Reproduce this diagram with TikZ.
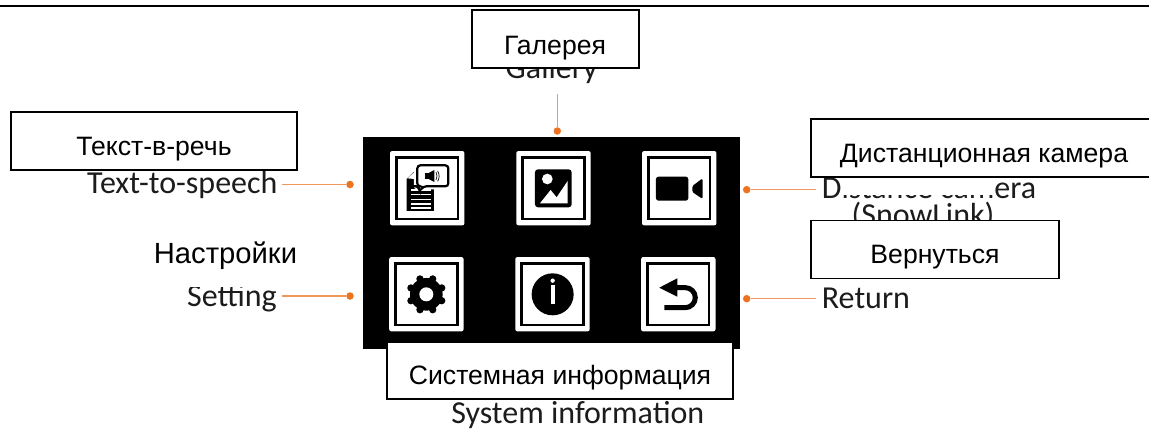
\documentclass[tikz,border=0pt]{standalone}
\usepackage{fontspec}
\setmainfont{Liberation Sans}
\newfontfamily\enfont{Carlito}
\definecolor{dotc}{HTML}{EC7420}
\definecolor{linec}{HTML}{F0985C}
\definecolor{entext}{HTML}{1C1C1C}
\tikzset{
  x=1pt,y=-1pt,
  rubox/.style={draw=black,line width=2pt,fill=white,inner sep=0pt,rectangle},
  rutext/.style={font=\fontsize{26.6}{30}\selectfont,inner sep=0pt,anchor=base,text=black},
  entxt/.style={font=\enfont\fontsize{32}{36}\selectfont,inner sep=0pt,text=entext},
  dotn/.style={circle,fill=dotc,inner sep=0pt,minimum size=7.5pt},
  conn/.style={draw=linec,line width=1.2pt},
  tileo/.style={fill=white,rounded corners=2.2pt},
  tilei/.style={draw=black,line width=2.6pt,fill=white},
  zoomed/.style={shift={(340,110)},x=0.3333pt,y=-0.3333pt}
}
\newcommand{\icontile}[2]{%
  \fill[tileo] (#1-37.2,#2-37.2) rectangle (#1+37.2,#2+37.2);
  \draw[tilei] (#1-30.8,#2-30.8) rectangle (#1+30.8,#2+30.8);
}
\begin{document}
\begin{tikzpicture}
\useasboundingbox (0,0) rectangle (1149,429);
\fill[white] (0,0) rectangle (1149,429);
% top rule
\coordinate (ruleL) at (0,5.7); \coordinate (ruleR) at (1149,5.7);
\draw[line width=2.2pt] (ruleL) -- (ruleR);
% screen
\fill[black] (363,136.7) rectangle (740,349);
\icontile{427.2}{188.2}
\icontile{553.5}{188.2}
\icontile{679.2}{188.2}
\icontile{426.4}{294.2}
\icontile{552.5}{294.2}
\icontile{678.3}{294.2}
\begin{scope}[zoomed]
  % document + speech bubble
  \fill[black] (200,207) -- (222,185) -- (240,185) -- (282,185) -- (282,303) -- (200,303) -- cycle;
  \fill[white] (202,205) -- (222,187) -- (222,207) -- cycle;
  \foreach \yy in {238,252,266,280,292}{\fill[white] (214,\yy) rectangle (272,\yy+4);}
  \fill[white,rounded corners=3pt] (222,158) rectangle (334,238);
  \draw[black,line width=2.2pt,fill=white,rounded corners=3pt] (232,166) -- (325,166) -- (325,229) -- (250,229) -- (238,245) -- (236,229) -- (232,229) -- cycle;
  \fill[black] (255,189) rectangle (268,207);
  \fill[black] (266,189) -- (283,180) -- (283,216) -- (266,207) -- cycle;
  \draw[black,line width=0.7pt] (288,186) .. controls (292,194) and (292,202) .. (288,210);
  \draw[black,line width=0.7pt] (293,183) .. controls (299,194) and (299,203) .. (293,214);
  % picture
  \fill[black,rounded corners=3pt] (585,178) rectangle (695,292);
  \fill[white] (622,207) circle (16);
  \fill[white] (600,280) -- (632,240) -- (650,262) -- (683,213) -- (683,280) -- cycle;
  % camera
  \fill[black,rounded corners=2.5pt] (948,200) rectangle (1045,272);
  \fill[black,rounded corners=1.5pt] (1057,228) -- (1088,205) -- (1088,267) -- (1057,246) -- cycle;
  % gear
  \fill[black] (259,553) circle (49);
  \foreach \ang in {0,45,...,315}{\fill[black] (259,553) ++(\ang+22.5:50) circle (11);}
  \fill[white] (259,553) circle (21);
  % info
  \fill[black] (638,553) circle (63);
  \fill[white] (638,512) circle (6.5);
  \fill[white] (632,525) rectangle (644,583);
  % return
  \fill[black] (958,533) -- (1012,505) -- (1012,560) -- cycle;
  \draw[black,line width=5pt] (1000,533) -- (1036,533) arc[start angle=-90,end angle=90,radius=30] -- (973,593);
\end{scope}
% English labels
\node[entxt,anchor=base east] (ttsEn) at (277.7,193) {Text-to-speech};
\node[entxt,anchor=base east] (setEn) at (277,306) {Setting};
\node[entxt,anchor=base] (galEn) at (551.7,78.5) {Gallery};
\node[entxt,anchor=base west] (camEn) at (821.7,198) {Distance camera};
\node[entxt,anchor=base] (snowEn) at (923,225) {(SnowLink)};
\node[entxt,anchor=base west] (retEn) at (821.7,308) {Return};
\node[entxt,anchor=base] (sysEn) at (577.8,423) {System information};
% connectors
\node[dotn] (dotT) at (350,184.5) {};
\node[dotn] (dotS) at (350,296) {};
\node[dotn] (dotG) at (557.3,131) {};
\node[dotn] (dotC) at (746.7,189.7) {};
\node[dotn] (dotR) at (746.7,298.7) {};
\coordinate (endT) at (282,184.5);
\coordinate (endS) at (282,296);
\coordinate (endG) at (557.3,94);
\coordinate (endC) at (815.7,189.7);
\coordinate (endR) at (815.7,298.7);
\draw[conn] (endT) -- (dotT);
\draw[conn] (endS) -- (dotS);
\draw[conn] (endG) -- (dotG);
\draw[conn] (endC) -- (dotC);
\draw[conn] (endR) -- (dotR);
% white patches over the English text
\fill[white] (842,176) rectangle (995,194.5);
\fill[white] (150,236) rectangle (296,287);
% translation boxes
\draw[rubox] (10.7,112) rectangle (297.3,170.3);
\node[rutext] (ttsRu) at (154,155) {Текст-в-речь};
\draw[rubox] (472,9.7) rectangle (639,68.3);
\node[rutext] (galRu) at (555,54) {Галерея};
\draw[rubox] (811,119) rectangle (1152,176.7);
\node[rutext] (camRu) at (984,162) {Дистанционная камера};
\draw[rubox,line width=1.5pt] (811,220.7) rectangle (1059,278.3);
\node[rutext] (retRu) at (935,263) {Вернуться};
\draw[rubox] (387.3,342) rectangle (732.7,398.7);
\node[rutext] (sysRu) at (560,384) {Системная информация};
\node[rutext,font=\fontsize{29.2}{32}\selectfont] (setRu) at (225.5,263.5) {Настройки};
\end{tikzpicture}
\end{document}
